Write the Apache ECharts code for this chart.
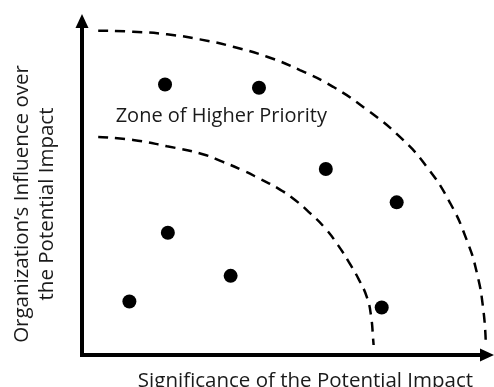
<!DOCTYPE html>
<html>
<head>
<meta charset="utf-8">
<script src="https://cdn.jsdelivr.net/npm/echarts@6/dist/echarts.min.js"></script>
<style>
  html, body { margin: 0; padding: 0; background: #fff; }
  #chart { width: 494px; height: 387px; }
</style>
</head>
<body>
<div id="chart"></div>
<script>
// impacts: [significance, influence] (0-10 scale)
const impactPoints = [
  [2.05, 8.1], [4.37, 8.0], [6.02, 5.57], [7.77, 4.57],
  [2.12, 3.66], [3.67, 2.37], [1.17, 1.6], [7.4, 1.42]
];

// dashed zone boundaries
const outerZone = [
  [0.4, 9.71], [1.26, 9.68], [2.1, 9.6], [2.91, 9.45], [3.73, 9.23],
  [4.57, 8.93], [5.38, 8.53], [6.2, 8.03], [7.04, 7.34], [7.85, 6.53],
  [8.51, 5.64], [9.09, 4.55], [9.5, 3.44], [9.75, 2.46], [9.91, 1.35], [9.97, 0.36]
];
const innerZone = [
  [0.4, 6.53], [1.26, 6.44], [2.1, 6.25], [2.96, 6.02], [3.48, 5.78],
  [3.95, 5.54], [4.4, 5.27], [4.84, 4.99], [5.26, 4.64], [5.63, 4.25],
  [6.0, 3.8], [6.32, 3.29], [6.59, 2.78], [6.84, 2.25], [7.04, 1.71],
  [7.14, 1.14], [7.19, 0.45], [7.2, 0.3]
];

const zoneLabel = 'Zone of Higher Priority';
const zoneLabelAt = [3.44, 7.15];
const xName = 'Significance of the Potential Impact';
const yName = 'Organization\u2019s Influence over\nthe Potential Impact';

const font = '"Open Sans", sans-serif';
const chart = echarts.init(document.getElementById('chart'));

const axisBase = {
  type: 'value',
  min: 0,
  max: 10,
  axisTick: { show: false },
  axisLabel: { show: false },
  splitLine: { show: false },
  axisLine: {
    show: true,
    symbol: ['none', 'triangle'],
    symbolSize: [13, 14],
    lineStyle: { color: '#000', width: 4, cap: 'square' }
  },
  nameLocation: 'middle',
  nameTextStyle: { color: '#1a1a1a', fontFamily: font, fontSize: 20.5, lineHeight: 25 }
};

const dashed = { color: '#000', width: 2.5, type: [10, 7] };

chart.setOption({
  animation: false,
  grid: { left: 82, right: 7, top: 21, bottom: 32, outerBoundsMode: 'none' },
  xAxis: Object.assign({}, axisBase, {
    name: xName,
    nameGap: 14,
    nameTextStyle: Object.assign({}, axisBase.nameTextStyle, { padding: [0, 0, 0, 42] })
  }),
  yAxis: Object.assign({}, axisBase, {
    name: yName,
    nameGap: 22,
    nameTextStyle: Object.assign({}, axisBase.nameTextStyle, { padding: [0, 32, 0, 0] })
  }),
  series: [
    { type: 'line', data: outerZone, smooth: true, symbol: 'none', lineStyle: dashed, silent: true },
    { type: 'line', data: innerZone, smooth: true, symbol: 'none', lineStyle: dashed, silent: true },
    {
      type: 'scatter',
      data: impactPoints,
      symbolSize: 14,
      itemStyle: { color: '#000', opacity: 1 }
    },
    {
      type: 'scatter',
      data: [zoneLabelAt],
      symbolSize: 1,
      itemStyle: { color: 'rgba(0,0,0,0)', opacity: 1 },
      label: {
        show: true,
        position: 'inside',
        formatter: zoneLabel,
        color: '#1a1a1a',
        fontFamily: font,
        fontSize: 20
      }
    }
  ]
});
</script>
</body>
</html>
